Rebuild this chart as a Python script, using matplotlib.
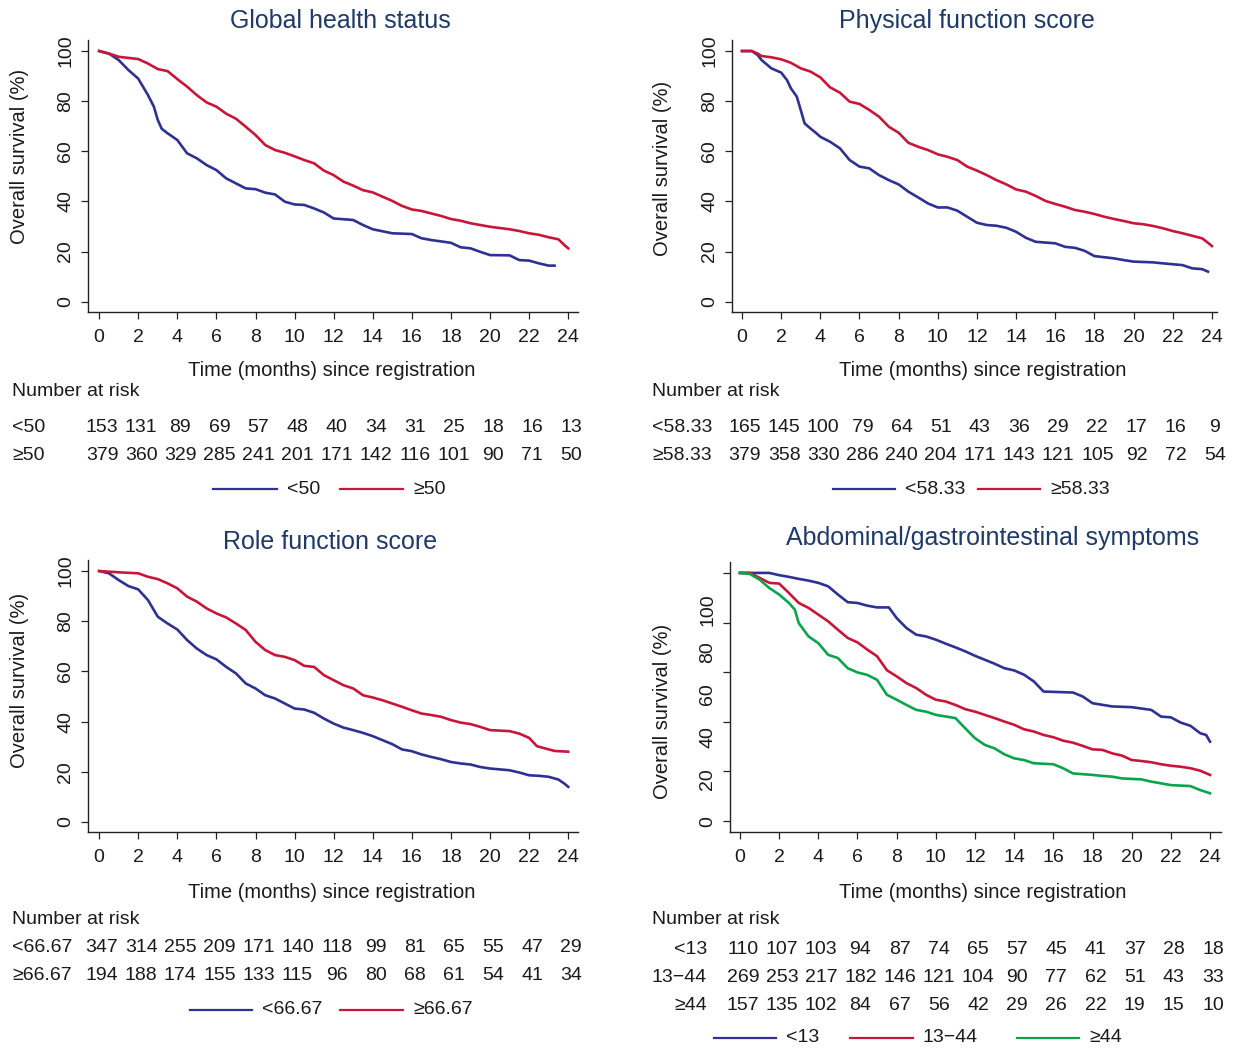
import matplotlib
matplotlib.use('Agg')
import matplotlib.pyplot as plt
from matplotlib.lines import Line2D
from matplotlib.transforms import blended_transform_factory

plt.rcParams['font.family'] = ['Liberation Sans', 'DejaVu Sans']

W, H = 1234, 1050
BLUE = '#2e3192'
RED = '#c8163a'
GREEN = '#0aa54b'
NAVY = '#1f3a68'

months = [0, 2, 4, 6, 8, 10, 12, 14, 16, 18, 20, 22, 24]

# Global health status
gh_low_t = [0, 0.5, 1, 1.5, 2, 2.5, 2.8, 3, 3.2, 3.5, 4, 4.5, 5, 5.5, 6, 6.5, 7, 7.5, 8, 8.5,
            9, 9.5, 10, 10.5, 11, 11.5, 12, 13, 13.5, 14, 15, 16, 16.5, 17, 18, 18.5, 19, 19.5, 20, 21,
            21.5, 22, 22.5, 23, 23.3]
gh_low_s = [100, 99, 96.4, 92.4, 89, 82.4, 77.8, 72.5, 69, 67.2, 64.5, 59.2, 57.2, 54.5, 52.5, 49.2, 47.2, 45.2, 44.9, 43.5,
            42.8, 39.9, 38.8, 38.6, 37.2, 35.6, 33.2, 32.6, 30.6, 28.9, 27.3, 27, 25.3, 24.6, 23.5, 21.7, 21.3, 19.9, 18.6, 18.5,
            16.6, 16.4, 15.3, 14.4, 14.4]
gh_high_t = [0, 0.7, 1, 2, 2.5, 3, 3.5, 4, 4.5, 5, 5.5, 6, 6.5, 7, 7.5, 8, 8.5, 9, 9.5, 10,
             10.5, 11, 11.5, 12, 12.5, 13, 13.5, 14, 14.5, 15, 15.5, 16, 16.5, 17, 17.5, 18, 18.5, 19, 19.5, 20,
             20.5, 21, 21.5, 22, 22.5, 23, 23.5, 23.8, 24]
gh_high_s = [100, 98.5, 97.7, 96.8, 95, 92.8, 92, 88.8, 85.8, 82.4, 79.5, 77.8, 75, 73, 69.8, 66.5, 62.5, 60.5, 59.4, 58,
             56.5, 55.2, 52.3, 50.5, 47.9, 46.3, 44.5, 43.6, 41.9, 40.2, 38.2, 36.8, 36.2, 35.2, 34.2, 33, 32.3, 31.3, 30.6, 29.9,
             29.4, 28.9, 28.2, 27.3, 26.7, 25.7, 24.9, 22.6, 21.3]
gh_risk_low = [153, 131, 89, 69, 57, 48, 40, 34, 31, 25, 18, 16, 13]
gh_risk_high = [379, 360, 329, 285, 241, 201, 171, 142, 116, 101, 90, 71, 50]

# Physical function score
pf_low_t = [0, 0.5, 0.8, 1, 1.5, 2, 2.3, 2.5, 2.8, 3, 3.2, 3.5, 3.8, 4, 4.5, 5, 5.5, 6, 6.5, 7,
            7.5, 8, 8.5, 9, 9.5, 10, 10.5, 11, 11.5, 12, 12.5, 13, 13.5, 14, 14.5, 15, 16, 16.5, 17, 17.5,
            18, 19, 19.5, 20, 21, 21.5, 22.5, 23, 23.5, 23.8]
pf_low_s = [100, 100, 98.4, 96.4, 93.1, 91.4, 88.4, 85.1, 81.8, 76.5, 71.1, 69.1, 67.2, 65.8, 63.8, 61.2, 56.5, 53.9, 53.2, 50.5,
            48.5, 46.8, 43.9, 41.6, 39.2, 37.6, 37.6, 36.3, 33.9, 31.5, 30.6, 30.3, 29.5, 27.9, 25.5, 23.9, 23.3, 21.9, 21.5, 20.3,
            18.2, 17.3, 16.6, 16, 15.7, 15.3, 14.6, 13.3, 13, 12]
pf_high_t = [0, 0.5, 0.8, 1, 1.5, 2, 2.5, 3, 3.5, 4, 4.5, 5, 5.5, 6, 6.5, 7, 7.5, 8, 8.5, 9,
             9.5, 10, 10.5, 11, 11.5, 12, 12.5, 13, 13.5, 14, 14.5, 15, 15.5, 16, 16.5, 17, 17.5, 18, 18.5, 19,
             19.5, 20, 20.5, 21, 21.5, 22, 22.5, 23, 23.5, 23.8, 24]
pf_high_s = [100, 100, 99, 98, 97.5, 96.7, 95.3, 93.1, 91.8, 89.5, 85.5, 83.4, 79.8, 78.9, 76.5, 73.8, 69.8, 67.4, 63.4, 61.8,
             60.5, 58.8, 57.8, 56.5, 53.9, 52.3, 50.5, 48.5, 46.8, 44.8, 43.9, 42.2, 40.2, 39, 37.9, 36.6, 35.9, 35, 33.9, 33,
             32.2, 31.3, 30.9, 30.2, 29.3, 28.2, 27.3, 26.3, 25.3, 23.5, 22.2]
pf_risk_low = [165, 145, 100, 79, 64, 51, 43, 36, 29, 22, 17, 16, 9]
pf_risk_high = [379, 358, 330, 286, 240, 204, 171, 143, 121, 105, 92, 72, 54]

# Role function score
rf_low_t = [0, 0.5, 1, 1.5, 2, 2.5, 3, 3.5, 4, 4.5, 5, 5.5, 6, 6.5, 7, 7.5, 8, 8.5, 9, 9.5,
            10, 10.5, 11, 11.5, 12, 12.5, 13, 13.5, 14, 14.5, 15, 15.5, 16, 16.5, 17, 17.5, 18, 18.5, 19, 19.5,
            20, 21, 21.5, 22, 22.5, 23, 23.5, 23.8, 24]
rf_low_s = [100, 99.1, 96.4, 94, 92.7, 88.4, 81.8, 79.1, 76.7, 72.5, 69.1, 66.5, 64.8, 61.8, 59.2, 55.2, 53.2, 50.5, 49.2, 47.2,
            45.2, 44.8, 43.5, 41.2, 39.2, 37.6, 36.6, 35.5, 34.2, 32.6, 31, 28.9, 28.2, 26.9, 25.9, 25, 23.9, 23.3, 22.9, 21.9,
            21.3, 20.6, 19.7, 18.6, 18.4, 18, 16.9, 15.3, 14]
rf_high_t = [0, 1, 2, 2.5, 3, 3.5, 4, 4.5, 5, 5.5, 6, 6.5, 7, 7.5, 8, 8.5, 9, 9.5, 10, 10.5,
             11, 11.5, 12, 12.5, 13, 13.5, 14, 14.5, 15, 15.5, 16, 16.5, 17, 17.5, 18, 18.5, 19, 19.5, 20, 21,
             21.5, 22, 22.4, 23.3, 24]
rf_high_s = [100, 99.5, 99.1, 97.7, 96.8, 95.1, 93.1, 89.8, 87.8, 85.1, 83.1, 81.5, 79.1, 76.5, 71.8, 68.5, 66.5, 65.8, 64.5, 62.2,
             61.8, 58.5, 56.5, 54.5, 53.2, 50.5, 49.6, 48.5, 47.2, 45.9, 44.5, 43.2, 42.6, 41.9, 40.6, 39.6, 39, 37.9, 36.6, 36.2,
             35.2, 33.5, 30.2, 28.3, 28]
rf_risk_low = [347, 314, 255, 209, 171, 140, 118, 99, 81, 65, 55, 47, 29]
rf_risk_high = [194, 188, 174, 155, 133, 115, 96, 80, 68, 61, 54, 41, 34]

# Abdominal/gastrointestinal symptoms
ab_low_t = [0, 1.5, 2, 2.5, 3, 3.5, 4, 4.5, 5, 5.5, 6, 6.5, 7, 7.6, 8, 8.5, 9, 9.5, 10, 10.5,
            11, 11.5, 12, 12.5, 13, 13.5, 14, 14.5, 15, 15.5, 17, 17.5, 18, 19, 20, 21, 21.5, 22, 22.5, 23,
            23.5, 23.8, 24]
ab_low_s = [100, 100, 99.1, 98.4, 97.6, 96.9, 96, 94.6, 91.3, 88.2, 87.9, 86.8, 86.1, 86.1, 81.8, 77.8, 75.1, 74.4, 73.1, 71.5,
            70, 68.4, 66.6, 65, 63.4, 61.6, 60.7, 59, 56.3, 52.2, 51.8, 50.2, 47.5, 46.2, 45.9, 44.8, 42.1, 41.8, 39.7, 38.4,
            35.4, 34.7, 32]
ab_mid_t = [0, 0.5, 1, 1.5, 2, 2.5, 3, 3.5, 4, 4.5, 5, 5.5, 6, 6.5, 7, 7.5, 8, 8.5, 9, 9.5,
            10, 10.5, 11, 11.5, 12, 12.5, 13, 13.5, 14, 14.5, 15, 15.5, 16, 16.5, 17, 17.5, 18, 18.5, 19, 19.5,
            20, 20.5, 21, 21.5, 22, 22.5, 23, 23.5, 24]
ab_mid_s = [100, 100, 98, 96, 95.7, 91.9, 87.9, 85.9, 83.2, 80.5, 77.1, 73.8, 72, 69.1, 66.4, 60.8, 58.3, 55.6, 53.6, 50.9,
            48.9, 48.2, 46.8, 45.1, 44.1, 42.8, 41.5, 40.1, 38.8, 37, 36.1, 34.7, 33.8, 32.4, 31.6, 30.3, 28.9, 28.7, 27.3, 26.4,
            24.6, 24.2, 23.7, 22.9, 22.3, 21.9, 21.3, 20.3, 18.6]
ab_high_t = [0, 0.5, 1, 1.5, 2, 2.5, 2.8, 3, 3.5, 4, 4.5, 5, 5.5, 6, 6.5, 7, 7.5, 8, 8.5, 9,
             9.5, 10, 11, 11.5, 12, 12.5, 13, 13.5, 14, 14.5, 15, 16, 16.5, 17, 18, 18.5, 19, 19.5, 20.5, 21,
             21.5, 22, 23, 23.5, 24]
ab_high_s = [100, 99.6, 97.3, 93.9, 91.3, 87.9, 85.2, 79.8, 74.4, 71.7, 67, 65.7, 61.6, 59.9, 58.9, 56.9, 50.9, 48.9, 46.8, 44.8,
             44.1, 42.8, 41.5, 37.4, 33.4, 30.7, 29.3, 26.9, 25.3, 24.6, 23.3, 22.9, 21.3, 19.2, 18.6, 18.2, 17.9, 17.2, 16.8, 15.9,
             15.2, 14.5, 14.1, 12.5, 11.2]
ab_risk_low = [110, 107, 103, 94, 87, 74, 65, 57, 45, 41, 37, 28, 18]
ab_risk_mid = [269, 253, 217, 182, 146, 121, 104, 90, 77, 62, 51, 43, 33]
ab_risk_high = [157, 135, 102, 84, 67, 56, 42, 29, 26, 22, 19, 15, 10]

fig = plt.figure(figsize=(W / 100, H / 100), dpi=100)


def fx(x):
    return x / W


def fy(y):
    return 1 - y / H


def ftext(x, y, s, **kw):
    kw.setdefault('fontsize', 14)
    kw.setdefault('color', '#1a1a1a')
    fig.text(fx(x), fy(y), s, **kw)


def make_axes(l, t, r, b, xlim, ylim):
    ax = fig.add_axes([fx(l), fy(b), (r - l) / W, (b - t) / H])
    ax.set_xlim(*xlim)
    ax.set_ylim(*ylim)
    for s in ['top', 'right']:
        ax.spines[s].set_visible(False)
    for s in ['left', 'bottom']:
        ax.spines[s].set_linewidth(1.0)
        ax.spines[s].set_color('#222222')
    ax.set_xticks(months)
    ax.tick_params(length=5, width=0.9, color='#222222', labelsize=14, labelcolor='#1a1a1a')
    ax.tick_params(axis='x', pad=7)
    ax.tick_params(axis='y', pad=5)
    ax.patch.set_alpha(0)
    return ax


def risk_table(ax, rows, labels, y0, row_h, label_x, label_ha):
    trans = blended_transform_factory(ax.transData, fig.transFigure)
    for i, (lab, vals) in enumerate(zip(labels, rows)):
        y = y0 + i * row_h
        ftext(label_x, y, lab, ha=label_ha, va='center')
        for m, n in zip(months, vals):
            ax.text(m + 0.15, fy(y), str(n), transform=trans, ha='center', va='center',
                    fontsize=14, color='#1a1a1a')


def legend_row(y, items):
    for x1, x2, col, lab in items:
        fig.add_artist(Line2D([fx(x1), fx(x2)], [fy(y), fy(y)], transform=fig.transFigure,
                              color=col, lw=1.6))
        ftext(x2 + 10, y, lab, ha='left', va='center')


def std_yaxis(ax):
    ax.set_yticks([0, 20, 40, 60, 80, 100])
    ax.set_yticklabels(['0', '20', '40', '60', '80', '100'], rotation=90, va='center')


LW = 1.9

# ---- panel 1
ax1 = make_axes(88, 40, 578, 312, (-0.57, 24.5), (-4.1, 104.4))
std_yaxis(ax1)
ax1.plot(gh_low_t, gh_low_s, color=BLUE, lw=LW)
ax1.plot(gh_high_t, gh_high_s, color=RED, lw=LW)
ftext(340, 21, 'Global health status', ha='center', va='center', fontsize=18, color=NAVY)
ftext(20, 156, 'Overall survival (%)', ha='center', va='center', rotation=90, fontsize=14.5)
ftext(332, 371, 'Time (months) since registration', ha='center', va='center', fontsize=14.5)
ftext(12, 391, 'Number at risk', ha='left', va='center')
risk_table(ax1, [gh_risk_low, gh_risk_high], ['<50', '≥50'], 428, 28, 12, 'left')
legend_row(489, [(213, 277, BLUE, '<50'), (340, 403, RED, '≥50')])

# ---- panel 2
ax2 = make_axes(732, 40, 1217, 312, (-0.51, 24.26), (-4.1, 104.4))
std_yaxis(ax2)
ax2.plot(pf_low_t, pf_low_s, color=BLUE, lw=LW)
ax2.plot(pf_high_t, pf_high_s, color=RED, lw=LW)
ftext(967, 21, 'Physical function score', ha='center', va='center', fontsize=18, color=NAVY)
ftext(662, 168, 'Overall survival (%)', ha='center', va='center', rotation=90, fontsize=14.5)
ftext(983, 371, 'Time (months) since registration', ha='center', va='center', fontsize=14.5)
ftext(652, 391, 'Number at risk', ha='left', va='center')
risk_table(ax2, [pf_risk_low, pf_risk_high], ['<58.33', '≥58.33'], 428, 28, 652, 'left')
legend_row(489, [(833, 895, BLUE, '<58.33'), (978, 1040, RED, '≥58.33')])

# ---- panel 3
ax3 = make_axes(88, 560, 578, 832, (-0.57, 24.5), (-4.0, 104.4))
std_yaxis(ax3)
ax3.plot(rf_low_t, rf_low_s, color=BLUE, lw=LW)
ax3.plot(rf_high_t, rf_high_s, color=RED, lw=LW)
ftext(330, 542, 'Role function score', ha='center', va='center', fontsize=18, color=NAVY)
ftext(20, 680, 'Overall survival (%)', ha='center', va='center', rotation=90, fontsize=14.5)
ftext(332, 892, 'Time (months) since registration', ha='center', va='center', fontsize=14.5)
ftext(12, 919, 'Number at risk', ha='left', va='center')
risk_table(ax3, [rf_risk_low, rf_risk_high], ['<66.67', '≥66.67'], 948, 28, 12, 'left')
legend_row(1010, [(190, 252, BLUE, '<66.67'), (340, 403, RED, '≥66.67')])

# ---- panel 4 (tick labels drift from their ticks, as in the source figure)
ax4 = make_axes(730, 562, 1221, 832, (-0.51, 24.56), (-4.4, 104.4))
ax4.yaxis.remove_overlapping_locs = False
ax4.set_yticks([0, 20, 40, 60, 80, 100])
ax4.set_yticklabels([''] * 6)
ax4.set_yticks([0, 17, 34, 51, 68, 85], ['0', '20', '40', '60', '80', '100'], minor=True)
ax4.tick_params(axis='y', which='minor', length=0, pad=10, rotation=90, labelsize=14, labelcolor='#1a1a1a')
for lab in ax4.get_yticklabels(minor=True):
    lab.set_va('center')
ax4.plot(ab_low_t, ab_low_s, color=BLUE, lw=LW)
ax4.plot(ab_mid_t, ab_mid_s, color=RED, lw=LW)
ax4.plot(ab_high_t, ab_high_s, color=GREEN, lw=LW)
ftext(993, 538, 'Abdominal/gastrointestinal symptoms', ha='center', va='center', fontsize=18, color=NAVY)
ftext(662, 711, 'Overall survival (%)', ha='center', va='center', rotation=90, fontsize=14.5)
ftext(983, 893, 'Time (months) since registration', ha='center', va='center', fontsize=14.5)
ftext(652, 920, 'Number at risk', ha='left', va='center')
risk_table(ax4, [ab_risk_low, ab_risk_mid, ab_risk_high], ['<13', '13\u221244', '≥44'], 949, 28, 707, 'right')
legend_row(1038, [(714, 776, BLUE, '<13'), (850, 913, RED, '13\u221244'), (1017, 1079, GREEN, '≥44')])

fig.savefig('out.png', dpi=100)
